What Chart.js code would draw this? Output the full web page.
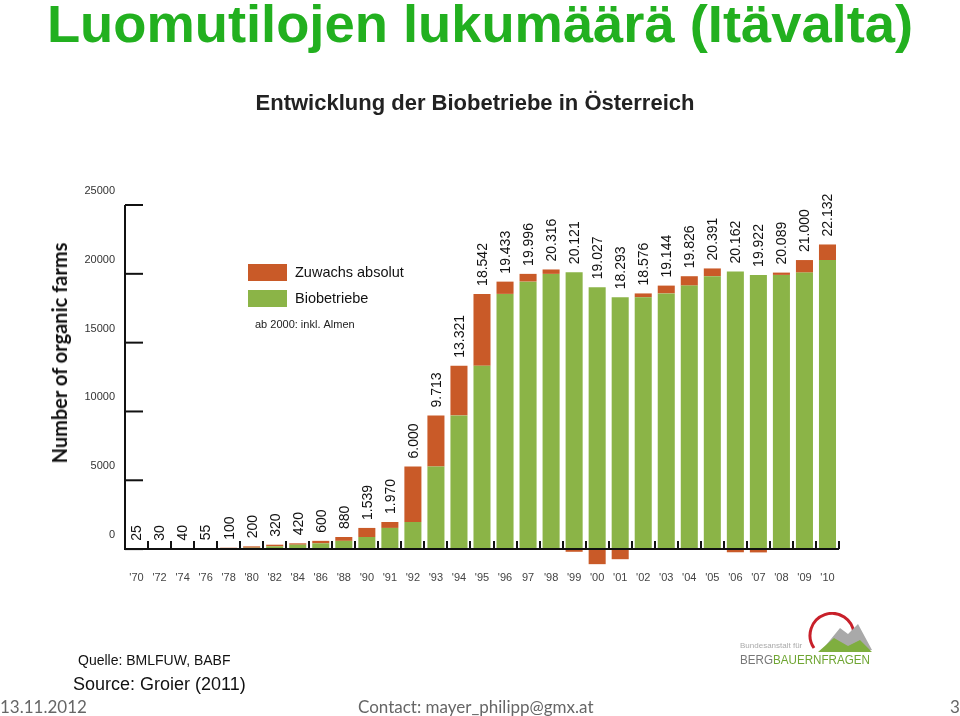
<!DOCTYPE html>
<html lang="fi">
<head>
    <meta charset="UTF-8">
    <title>Luomutilojen lukumäärä (Itävalta)</title>
    <style>
        body { margin: 0; background: #fff; }
        #page { position: relative; width: 960px; height: 716px; overflow: hidden; font-family: "Liberation Sans", Arial, sans-serif; }
        #chart { position: absolute; left: 0; top: 0; }
        .txt { position: absolute; white-space: nowrap; }
        #title { left: 0; width: 960px; top: -5px; text-align: center; color: #22b01f; font-weight: bold; font-size: 51px; transform: scaleX(1.065); }
        #subtitle { left: 0; width: 950px; top: 90px; text-align: center; color: #222; font-weight: bold; font-size: 22px; }
        #ytitle { left: 59px; top: 353px; transform: translate(-50%, -50%) rotate(-90deg); font-family: Lato, "Open Sans", sans-serif; font-weight: bold; font-size: 20px; color: #111; }
        #quelle { left: 78px; top: 652px; font-size: 14px; color: #111; }
        #source { left: 73px; top: 674px; font-size: 18px; color: #111; }
        .foot { top: 696px; font-family: Lato, "Open Sans", sans-serif; font-size: 17px; color: #666; }
    </style>
</head>
<body>
<div id="page">
    <canvas id="chart" width="960" height="716"></canvas>
    <div class="txt" id="title">Luomutilojen lukumäärä (Itävalta)</div>
    <div class="txt" id="subtitle">Entwicklung der Biobetriebe in Österreich</div>
    <div class="txt" id="ytitle">Number of organic farms</div>
    <div class="txt" id="quelle">Quelle: BMLFUW, BABF</div>
    <div class="txt" id="source">Source: Groier (2011)</div>
    <div class="txt foot" style="left:0">13.11.2012</div>
    <div class="txt foot" style="left:358px">Contact: mayer_philipp@gmx.at</div>
    <div class="txt foot" style="left:950px">3</div>

    <!-- Logo -->
    <svg style="position:absolute; left:736px; top:612px" width="140" height="58">
        <path d="M78 36 A22 22 0 1 1 118 22" fill="none" stroke="#c8202a" stroke-width="3"/>
        <path d="M86 38 L104 16 L112 22 L122 12 L136 38 Z" fill="#a9a9a9"/>
        <path d="M82 40 L98 26 L112 34 L124 28 L136 40 Z" fill="#7fae3f"/>
        <text x="4" y="36" font-family="Liberation Sans, Arial" font-size="8" fill="#aaa">Bundesanstalt für</text>
        <text x="4" y="52" font-family="Liberation Sans, Arial" font-size="12" textLength="130" lengthAdjust="spacingAndGlyphs" fill="#777">BERG<tspan fill="#6fa532">BAUERNFRAGEN</tspan></text>
    </svg>
</div>

<script src="https://cdn.jsdelivr.net/npm/chart.js"></script>
<script>
    // Jahre (Kategorien)
    const years = ["'70", "'72", "'74", "'76", "'78", "'80", "'82", "'84", "'86", "'88", "'90", "'91", "'92", "'93", "'94",
                   "'95", "'96", "97", "'98", "'99", "'00", "'01", "'02", "'03", "'04", "'05", "'06", "'07", "'08", "'09", "'10"];

    // Anzahl Biobetriebe (Beschriftung über den Balken)
    const totals = [25, 30, 40, 55, 100, 200, 320, 420, 600, 880, 1539, 1970, 6000, 9713, 13321,
                    18542, 19433, 19996, 20316, 20121, 19027, 18293, 18576, 19144, 19826, 20391, 20162, 19922, 20089, 21000, 22132];

    // grüner Sockel (Vorjahr bzw. aktueller Stand bei Rückgang)
    const biobetriebe = [25, 25, 30, 40, 55, 100, 200, 320, 420, 600, 880, 1539, 1970, 6000, 9713,
                         13321, 18542, 19433, 19996, 20121, 19027, 18293, 18293, 18576, 19144, 19826, 20162, 19922, 19922, 20089, 21000];

    // Zuwachs absolut (negativ = Rückgang, unter der Nulllinie)
    const zuwachs = [0, 5, 10, 15, 45, 100, 120, 100, 180, 280, 659, 431, 4030, 3713, 3608,
                     5221, 891, 563, 320, -195, -1094, -734, 283, 568, 682, 565, -229, -240, 167, 911, 1132];

    const yTicks = [0, 5000, 10000, 15000, 20000, 25000];

    const colorGreen = '#8bb447';
    const colorOrange = '#c95a28';

    function fmt(n) {
        return String(n).replace(/\B(?=(\d{3})+(?!\d))/g, '.');
    }

    // Achsen, Striche, Wertbeschriftung, Legende
    const decoPlugin = {
        id: 'deco',
        afterDatasetsDraw(chart) {
            const ctx = chart.ctx;
            const x = chart.scales.x, y = chart.scales.y;
            const y0 = y.getPixelForValue(0);
            const left = chart.chartArea.left, right = chart.chartArea.right;
            const step = (right - left) / years.length;

            ctx.save();
            ctx.strokeStyle = '#111';
            ctx.lineWidth = 2;
            // y-Achse
            ctx.beginPath();
            ctx.moveTo(left, y.getPixelForValue(25000));
            ctx.lineTo(left, y0 + 1);
            ctx.stroke();
            yTicks.forEach(v => {
                const py = y.getPixelForValue(v);
                ctx.beginPath();
                ctx.moveTo(left, py);
                ctx.lineTo(left + 18, py);
                ctx.stroke();
            });
            // x-Achse
            ctx.beginPath();
            ctx.moveTo(left, y0);
            ctx.lineTo(right, y0);
            ctx.stroke();
            for (let i = 0; i < years.length; i++) {
                const px = Math.round(x.getPixelForValue(i) + step / 2);
                ctx.beginPath();
                ctx.moveTo(px, y0);
                ctx.lineTo(px, y0 - 8);
                ctx.stroke();
            }

            // Werte über den Balken
            ctx.fillStyle = '#111';
            ctx.font = '14px "Liberation Sans", Arial, sans-serif';
            ctx.textAlign = 'left';
            ctx.textBaseline = 'middle';
            totals.forEach((v, i) => {
                const top = y.getPixelForValue(biobetriebe[i] + Math.max(zuwachs[i], 0));
                ctx.save();
                ctx.translate(x.getPixelForValue(i) + 1, top - 8);
                ctx.rotate(-Math.PI / 2);
                ctx.fillText(fmt(v), 0, 0);
                ctx.restore();
            });

            // Legende (Zuwachs oben, Biobetriebe darunter)
            ctx.font = '14.5px "Liberation Sans", Arial, sans-serif';
            chart.data.datasets.slice().reverse().forEach((ds, k) => {
                const by = 264 + k * 26;
                ctx.fillStyle = ds.backgroundColor;
                ctx.fillRect(248, by, 39, 17);
                ctx.fillStyle = '#111';
                ctx.fillText(ds.label, 295, by + 9);
            });
            ctx.font = '11px "Liberation Sans", Arial, sans-serif';
            ctx.fillStyle = '#222';
            ctx.fillText('ab 2000: inkl. Almen', 255, 325);
            ctx.restore();
        }
    };

    new Chart(document.getElementById('chart'), {
        type: 'bar',
        data: {
            labels: years,
            datasets: [
                { label: 'Biobetriebe', data: biobetriebe, backgroundColor: colorGreen },
                { label: 'Zuwachs absolut', data: zuwachs, backgroundColor: colorOrange }
            ]
        },
        options: {
            responsive: false,
            animation: false,
            devicePixelRatio: 1,
            layout: { padding: { left: 0, right: 121, top: 205, bottom: 129 } },
            datasets: { bar: { barPercentage: 0.74, categoryPercentage: 1 } },
            plugins: { legend: { display: false }, tooltip: { enabled: false } },
            scales: {
                x: {
                    stacked: true,
                    grid: { display: false, drawTicks: false },
                    border: { display: false },
                    ticks: { color: '#444', padding: 4, maxRotation: 0, autoSkip: false,
                             font: { family: '"Liberation Sans", Arial, sans-serif', size: 11 } },
                    afterFit(scale) { scale.height = 20; }
                },
                y: {
                    stacked: true,
                    min: -1300,
                    max: 25000,
                    afterBuildTicks(scale) { scale.ticks = yTicks.map(v => ({ value: v })); },
                    grid: { display: false, drawTicks: false },
                    border: { display: false },
                    ticks: { color: '#333', padding: 10, labelOffset: -14,
                             callback: v => String(v),
                             font: { family: '"Liberation Sans", Arial, sans-serif', size: 11 } },
                    afterFit(scale) { scale.width = 125; }
                }
            }
        },
        plugins: [decoPlugin]
    });
</script>
</body>
</html>
